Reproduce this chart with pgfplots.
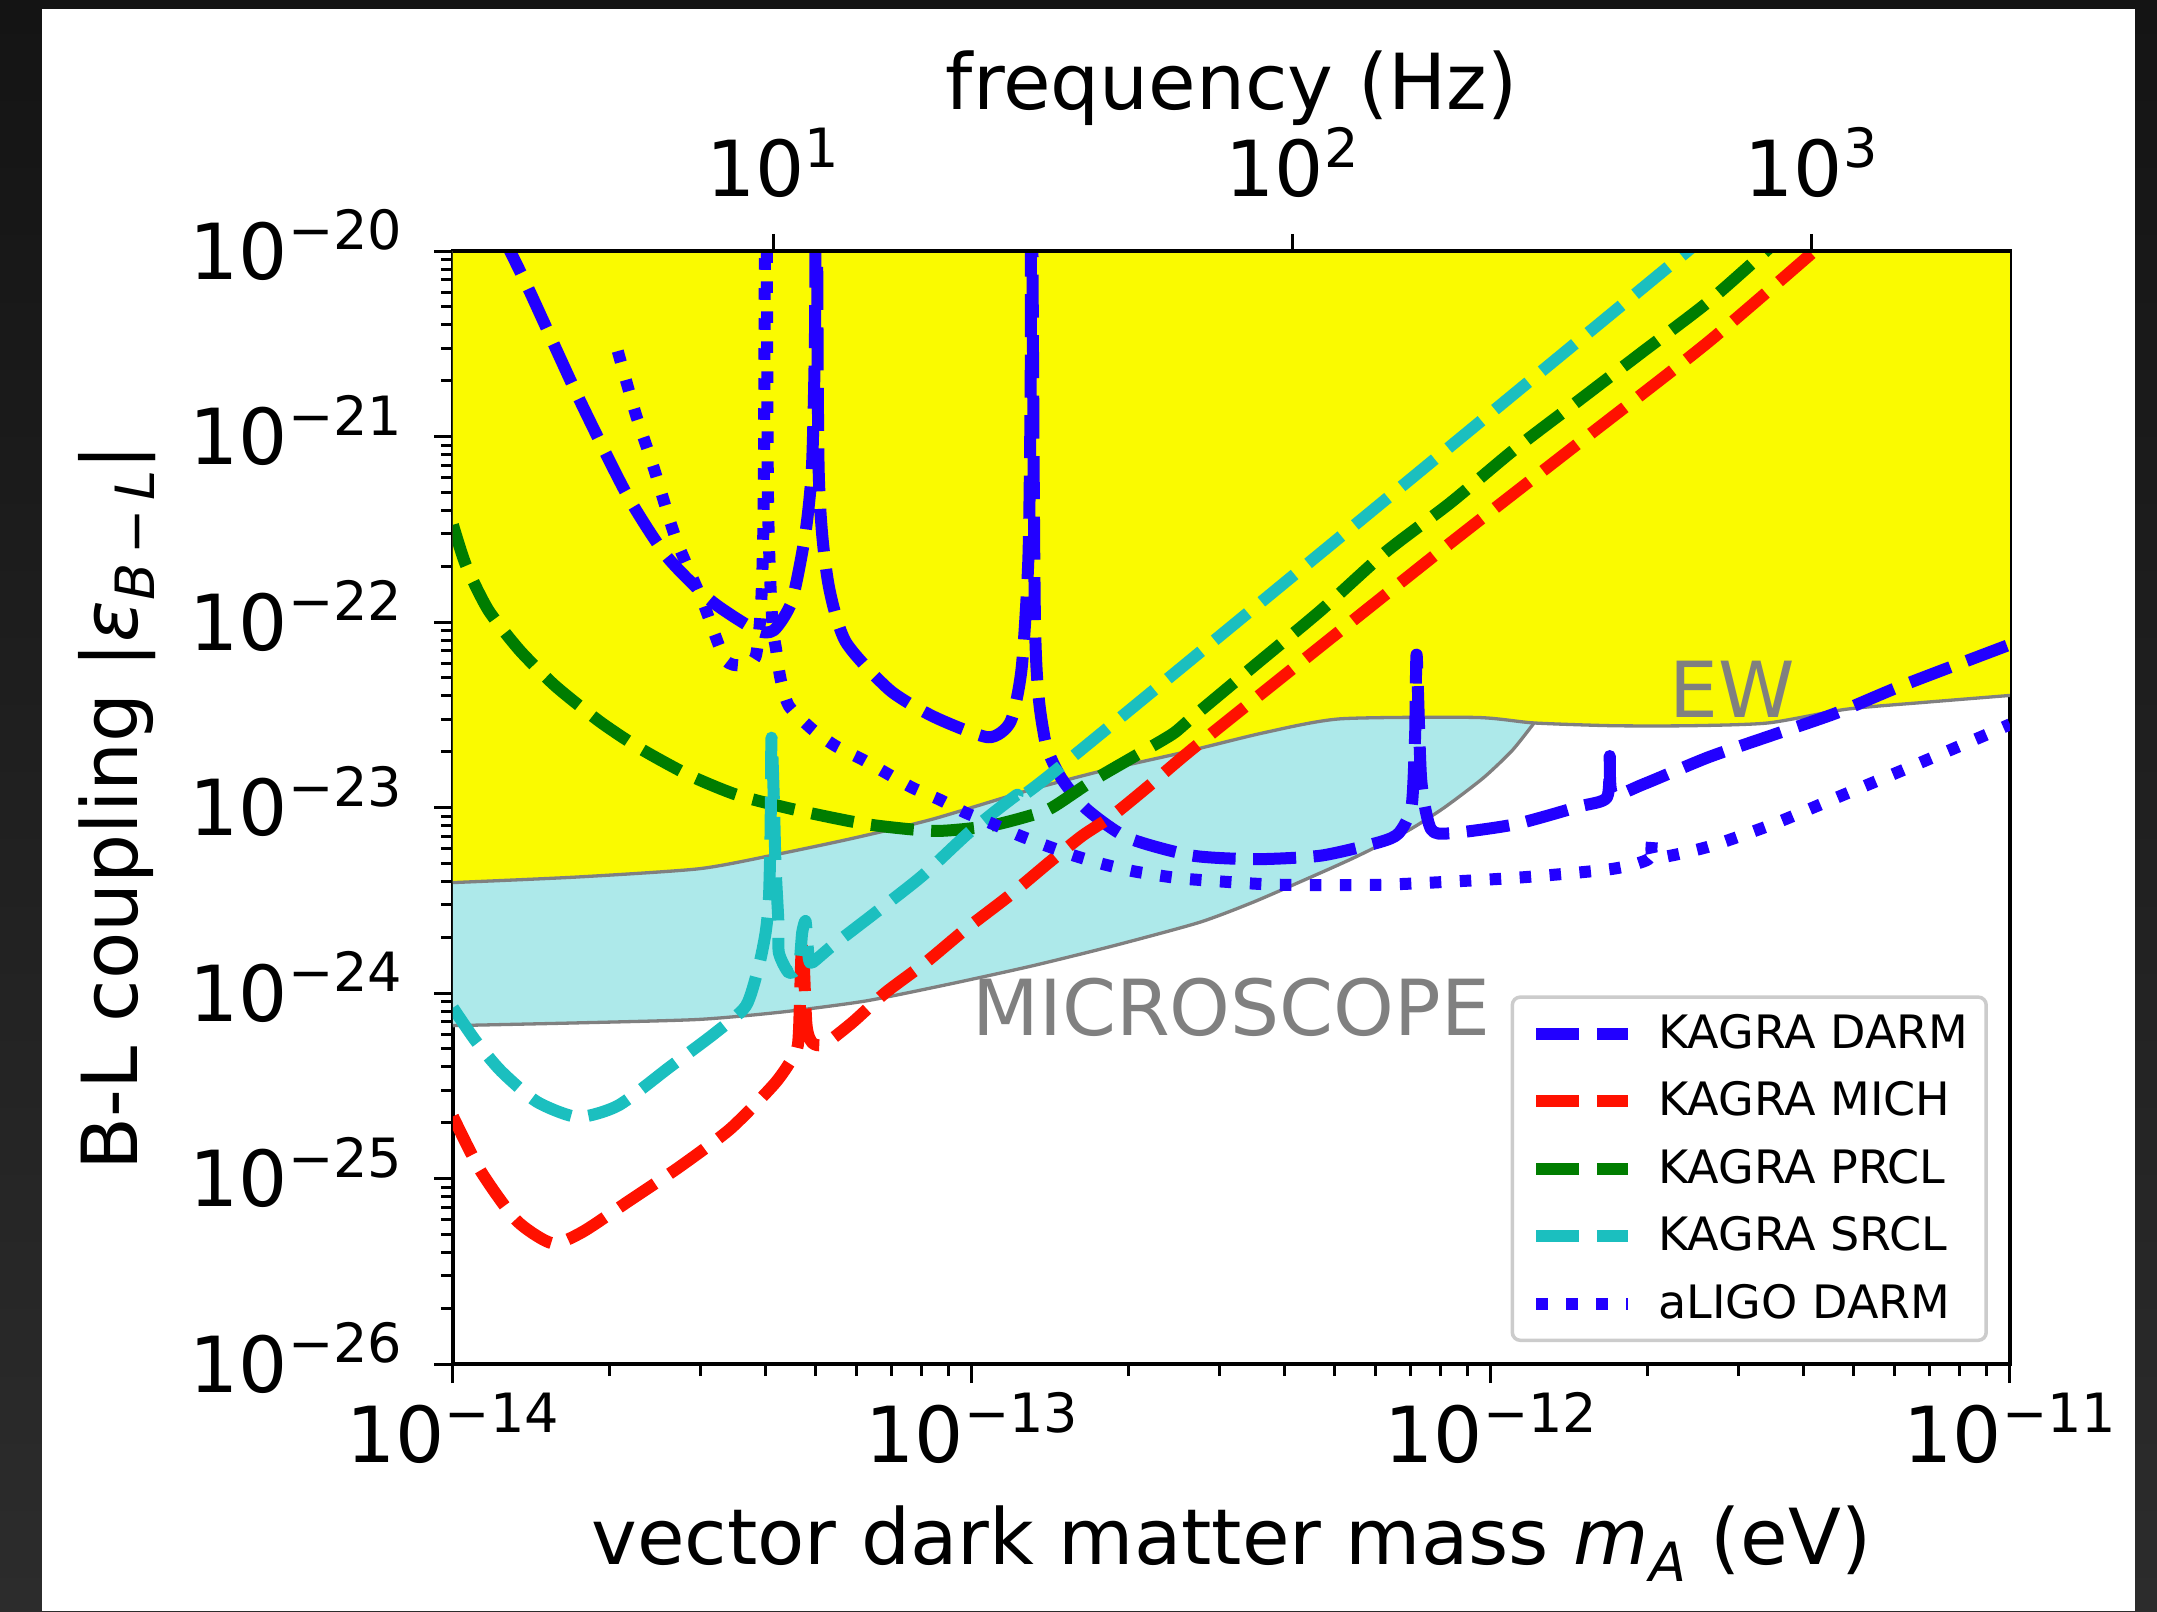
\documentclass[border=0pt]{standalone}
\usepackage{fontspec}
\setmainfont{DejaVu Sans}
\usepackage{pgfplots}
\pgfplotsset{compat=1.18}

\definecolor{cdarm}{RGB}{34,0,255}
\definecolor{cmich}{RGB}{255,17,0}
\definecolor{cprcl}{RGB}{0,125,0}
\definecolor{csrcl}{RGB}{27,191,191}
\definecolor{ewyellow}{RGB}{250,250,0}
\definecolor{microcyan}{RGB}{173,233,234}
\definecolor{bordergray}{RGB}{128,128,128}
\definecolor{legendedge}{RGB}{204,204,204}
\definecolor{bgtop}{RGB}{20,20,20}
\definecolor{bgbot}{RGB}{44,44,44}

\newcommand{\tl}[1]{10\raisebox{0.385em}{\fontsize{15.4pt}{16pt}\selectfont #1}}
\newcommand{\bigfont}{\fontsize{22pt}{26pt}\selectfont}

\pgfplotsset{
  kdash/.style={line width=1.2mm, dash pattern=on 4.3mm off 1.75mm, line cap=butt, line join=round, smooth, tension=0.4},
  kdot/.style={line width=1.2mm, dash pattern=on 1.15mm off 1.85mm, line cap=butt, line join=round, smooth, tension=0.4},
}

\begin{document}
\begin{tikzpicture}
\shade[top color=bgtop, bottom color=bgbot] (0mm,0mm) rectangle (215.7mm,161.1mm);
\fill[white] (4.2mm,0mm) rectangle (213.5mm,160.2mm);
\useasboundingbox (0mm,0mm) rectangle (215.7mm,161.1mm);

\begin{axis}[
  at={(45.3mm,24.7mm)}, anchor=south west,
  scale only axis, width=155.7mm, height=111.3mm,
  xmode=log, ymode=log,
  xmin=1e-14, xmax=1e-11, ymin=1e-26, ymax=1e-20,
  no markers,
  axis line style={line width=0.45mm},
  every tick/.style={black, line width=0.3mm},
  tick align=outside,
  major tick length=1.9mm, minor tick length=1.2mm,
  xtick pos=left, ytick pos=left,
  xtick={1e-14,1e-13,1e-12,1e-11},
  xticklabels={\tl{−14},\tl{−13},\tl{−12},\tl{−11}},
  minor xtick={2e-14,3e-14,4e-14,5e-14,6e-14,7e-14,8e-14,9e-14,2e-13,3e-13,4e-13,5e-13,6e-13,7e-13,8e-13,9e-13,2e-12,3e-12,4e-12,5e-12,6e-12,7e-12,8e-12,9e-12},
  ytick={1e-26,1e-25,1e-24,1e-23,1e-22,1e-21,1e-20},
  yticklabels={\tl{−26},\tl{−25},\tl{−24},\tl{−23},\tl{−22},\tl{−21},\tl{−20}},
  minor ytick={2e-26,3e-26,4e-26,5e-26,6e-26,7e-26,8e-26,9e-26,2e-25,3e-25,4e-25,5e-25,6e-25,7e-25,8e-25,9e-25,2e-24,3e-24,4e-24,5e-24,6e-24,7e-24,8e-24,9e-24,2e-23,3e-23,4e-23,5e-23,6e-23,7e-23,8e-23,9e-23,2e-22,3e-22,4e-22,5e-22,6e-22,7e-22,8e-22,9e-22,2e-21,3e-21,4e-21,5e-21,6e-21,7e-21,8e-21,9e-21},
  ticklabel style={font=\bigfont, inner sep=0pt},
  xticklabel style={anchor=base, yshift=-7.9mm},
  yticklabel style={anchor=base east, yshift=-2.84mm, xshift=-3.1mm},
  xlabel={vector dark matter mass \textit{m}\raisebox{-0.22em}{\fontsize{15.4pt}{16pt}\selectfont\textit{A}} (eV)},
  ylabel={B-L coupling |\textit{ε}\raisebox{-0.22em}{\fontsize{15.4pt}{16pt}\selectfont\textit{B}\,−\,\textit{L}}|},
  label style={font=\bigfont, inner sep=0pt},
  xlabel style={at={(axis description cs:0.5,-0.1797)}, anchor=base},
  ylabel style={at={(axis description cs:-0.2023,0.5)}, anchor=base},
  legend style={
    at={(1,0)}, anchor=south east, xshift=-2.2mm, yshift=2.2mm,
    draw=legendedge, line width=0.35mm, rounded corners=0.8mm, fill=white,
    font=\fontsize{13.1pt}{15pt}\selectfont,
    inner xsep=1.8mm, inner ysep=1.7mm,
    nodes={inner sep=0pt},
    row sep=2.8mm, column sep=2.4mm,
  },
  legend cell align=left,
  legend image code/.code={\draw[#1] (0mm,0mm) -- (9.2mm,0mm);},
]

% MICROSCOPE excluded region
\addplot[fill=microcyan, draw=none, forget plot, smooth, tension=0.4] coordinates {
(1e-14,6.675e-25) (1.732e-14,6.905e-25) (2.977e-14,7.209e-25) (4.326e-14,7.916e-25)
(6.236e-14,9.060e-25) (8.998e-14,1.114e-24) (1.306e-13,1.401e-24) (1.872e-13,1.797e-24)
(2.735e-13,2.398e-24) (3.445e-13,3.052e-24) (4.318e-13,4.010e-24) (5.445e-13,5.361e-24)
(6.866e-13,7.415e-24) (8.096e-13,9.913e-24) (9.663e-13,1.443e-23) (1.099e-12,2.031e-23)
(1.211e-12,2.858e-23)} |- (axis cs:1e-14,1e-20) -- cycle;

% EW excluded region
\addplot[fill=ewyellow, draw=none, forget plot, smooth, tension=0.4] coordinates {
(1e-14,3.941e-24) (1.732e-14,4.221e-24) (2.977e-14,4.677e-24) (4.146e-14,5.546e-24)
(5.870e-14,6.809e-24) (8.384e-14,8.648e-24) (1.306e-13,1.255e-23) (1.816e-13,1.599e-23)
(2.541e-13,1.977e-23) (3.662e-13,2.536e-23) (5.123e-13,3.008e-23) (9.374e-13,3.060e-23)
(1.211e-12,2.858e-23) (1.715e-12,2.762e-23) (2.429e-12,2.762e-23) (3.419e-12,2.858e-23)
(4.840e-12,3.390e-23) (6.853e-12,3.692e-23) (1e-11,4.022e-23)} |- (axis cs:1e-14,1e-20) -- cycle;

% boundaries
\addplot[bordergray, line width=0.33mm, forget plot, smooth, tension=0.4] coordinates {
(1e-14,6.675e-25) (1.732e-14,6.905e-25) (2.977e-14,7.209e-25) (4.326e-14,7.916e-25)
(6.236e-14,9.060e-25) (8.998e-14,1.114e-24) (1.306e-13,1.401e-24) (1.872e-13,1.797e-24)
(2.735e-13,2.398e-24) (3.445e-13,3.052e-24) (4.318e-13,4.010e-24) (5.445e-13,5.361e-24)
(6.866e-13,7.415e-24) (8.096e-13,9.913e-24) (9.663e-13,1.443e-23) (1.099e-12,2.031e-23)
(1.211e-12,2.858e-23)};
\addplot[bordergray, line width=0.33mm, forget plot, smooth, tension=0.4] coordinates {
(1e-14,3.941e-24) (1.732e-14,4.221e-24) (2.977e-14,4.677e-24) (4.146e-14,5.546e-24)
(5.870e-14,6.809e-24) (8.384e-14,8.648e-24) (1.306e-13,1.255e-23) (1.816e-13,1.599e-23)
(2.541e-13,1.977e-23) (3.662e-13,2.536e-23) (5.123e-13,3.008e-23) (9.374e-13,3.060e-23)
(1.211e-12,2.858e-23) (1.715e-12,2.762e-23) (2.429e-12,2.762e-23) (3.419e-12,2.858e-23)
(4.840e-12,3.390e-23) (6.853e-12,3.692e-23) (1e-11,4.022e-23)};

\node[anchor=base west, inner sep=0pt, text=bordergray, font=\bigfont] at (axis cs:1e-13,5.94e-25) {MICROSCOPE};
\node[anchor=base west, inner sep=0pt, text=bordergray, font=\bigfont] at (axis cs:2.2e-12,3.04e-23) {EW};

% KAGRA DARM
\addplot[cdarm, kdash] coordinates {
(1.242e-14,1.227e-20) (1.398e-14,6.273e-21) (1.739e-14,1.659e-21) (2.161e-14,4.898e-22)
(2.583e-14,2.257e-22) (3.150e-14,1.296e-22) (3.839e-14,9.05e-23) (4.156e-14,9.05e-23)
(4.499e-14,1.296e-22) (4.774e-14,2.976e-22) (4.918e-14,6.848e-22) (4.985e-14,3.607e-21)
(5.015e-14,1e-19) (5.065e-14,6.848e-22) (5.269e-14,1.717e-22) (5.704e-14,7.882e-23)
(6.955e-14,4.282e-23) (8.477e-14,3.071e-23) (1.075e-13,2.393e-23) (1.187e-13,2.907e-23)
(1.247e-13,5.657e-23) (1.285e-13,2.257e-22) (1.298e-13,2.078e-21) (1.302e-13,1e-19)
(1.323e-13,9.824e-23) (1.377e-13,2.459e-23) (1.475e-13,1.494e-23) (1.656e-13,9.913e-24)
(1.996e-13,6.878e-24) (2.658e-13,5.510e-24) (3.539e-13,5.270e-24) (4.712e-13,5.510e-24)
(6.092e-13,6.501e-24) (6.640e-13,7.264e-24) (7.032e-13,1.013e-23) (7.145e-13,2.459e-23)
(7.193e-13,6.667e-23) (7.339e-13,1.419e-23) (7.660e-13,7.674e-24) (8.347e-13,7.264e-24)
(1.111e-12,8.118e-24) (1.479e-12,1.013e-23) (1.674e-12,1.136e-23) (1.694e-12,1.897e-23)
(1.715e-12,1.176e-23) (1.969e-12,1.337e-23) (2.621e-12,1.865e-23) (3.488e-12,2.459e-23)
(4.643e-12,3.243e-23) (6.181e-12,4.532e-23) (1e-11,7.565e-23)};
\addlegendentry{KAGRA DARM}

% KAGRA MICH
\addplot[cmich, kdash] coordinates {
(1.000e-14,2.162e-25) (1.130e-14,1.103e-25) (1.325e-14,5.955e-26) (1.553e-14,4.478e-26)
(1.778e-14,5.159e-26) (2.180e-14,7.551e-26) (2.734e-14,1.157e-25) (3.429e-14,1.860e-25)
(4.184e-14,3.291e-25) (4.571e-14,4.775e-25) (4.641e-14,6.128e-25) (4.712e-14,1.991e-24)
(4.799e-14,6.787e-25) (4.924e-14,5.401e-25) (5.186e-14,5.291e-25) (5.880e-14,6.928e-25)
(6.817e-14,1.006e-24) (8.140e-14,1.459e-24) (9.716e-14,2.205e-24) (1.178e-13,3.334e-24)
(1.407e-13,5.049e-24) (1.630e-13,7.032e-24) (1.862e-13,9.008e-24) (2.192e-13,1.307e-23)
(2.656e-13,2.062e-23) (4.712e-13,7.449e-23) (8.347e-13,2.663e-22) (1.479e-12,9.264e-22)
(2.621e-12,3.228e-21) (4.471e-12,1.166e-20)};
\addlegendentry{KAGRA MICH}

% KAGRA PRCL
\addplot[cprcl, kdash] coordinates {
(1.000e-14,3.343e-22) (1.060e-14,2.020e-22) (1.170e-14,1.161e-22) (1.344e-14,7.052e-23)
(1.575e-14,4.525e-23) (1.919e-14,2.907e-23) (2.294e-14,2.083e-23) (2.852e-14,1.494e-23)
(3.546e-14,1.164e-23) (4.680e-14,9.581e-24) (6.297e-14,8.118e-24) (8.477e-14,7.478e-24)
(1.078e-13,7.953e-24) (1.288e-13,9.008e-24) (1.427e-13,1.000e-23) (1.704e-13,1.390e-23)
(2.036e-13,1.858e-23) (2.432e-13,2.485e-23) (2.656e-13,3.055e-23) (3.539e-13,5.965e-23)
(4.712e-13,1.161e-22) (6.269e-13,2.384e-22) (8.347e-13,4.385e-22) (1.111e-12,8.535e-22)
(1.479e-12,1.570e-21) (1.969e-12,2.889e-21) (2.621e-12,5.315e-21) (3.503e-12,1.089e-20)};
\addlegendentry{KAGRA PRCL}

% KAGRA SRCL
\addplot[csrcl, kdash] coordinates {
(1.000e-14,8.333e-25) (1.105e-14,5.550e-25) (1.238e-14,3.798e-25) (1.451e-14,2.595e-25)
(1.739e-14,2.147e-25) (2.084e-14,2.478e-25) (2.614e-14,3.985e-25) (3.204e-14,6.107e-25)
(3.669e-14,8.519e-25) (3.886e-14,1.401e-24) (4.004e-14,2.117e-24) (4.063e-14,3.200e-24)
(4.093e-14,7.326e-24) (4.110e-14,2.381e-23) (4.153e-14,1.108e-23) (4.184e-14,4.838e-24)
(4.235e-14,2.498e-24) (4.247e-14,1.650e-24) (4.439e-14,1.288e-24) (4.641e-14,1.401e-24)
(4.709e-14,2.117e-24) (4.779e-14,2.447e-24) (4.814e-14,1.947e-24) (4.852e-14,1.520e-24)
(4.924e-14,1.459e-24) (5.379e-14,1.794e-24) (6.519e-14,2.713e-24) (8.019e-14,4.279e-24)
(9.867e-14,7.326e-24) (1.213e-13,1.156e-23) (1.514e-13,1.748e-23) (2.519e-12,1.127e-20)};
\addlegendentry{KAGRA SRCL}

% aLIGO DARM
\addplot[cdarm, kdot] coordinates {
(2.078e-14,2.889e-21) (2.249e-14,1.328e-21) (2.435e-14,6.848e-22) (2.688e-14,2.818e-22)
(3.027e-14,1.296e-22) (3.342e-14,6.313e-23) (3.603e-14,5.854e-23) (3.830e-14,6.488e-23)
(3.925e-14,1.241e-22) (3.972e-14,4.867e-22) (4.009e-14,1e-19) (4.046e-14,4.867e-22)
(4.121e-14,1.046e-22) (4.197e-14,7.041e-23) (4.280e-14,4.919e-23) (4.439e-14,3.532e-23)
(4.924e-14,2.642e-23) (5.459e-14,2.149e-23) (6.145e-14,1.820e-23) (6.817e-14,1.543e-23)
(7.674e-14,1.280e-23) (8.638e-14,1.108e-23) (9.716e-14,9.386e-24) (1.102e-13,8.118e-24)
(1.240e-13,7.032e-24) (1.396e-13,6.209e-24) (1.583e-13,5.481e-24) (1.795e-13,4.946e-24)
(2.036e-13,4.550e-24) (2.326e-13,4.279e-24) (2.637e-13,4.107e-24) (3.846e-13,3.842e-24)
(6.266e-13,3.842e-24) (1.112e-12,4.178e-24) (1.705e-12,4.660e-24) (2.011e-12,5.270e-24)
(2.041e-12,6.579e-24) (2.073e-12,5.361e-24) (2.621e-12,6.145e-24) (3.488e-12,8.118e-24)
(4.643e-12,1.133e-23) (6.181e-12,1.580e-23) (8.968e-12,2.459e-23) (1e-11,2.810e-23)};
\addlegendentry{aLIGO DARM}
\end{axis}

% frequency axis on top
\begin{axis}[
  at={(45.3mm,24.7mm)}, anchor=south west,
  scale only axis, width=155.7mm, height=111.3mm,
  xmode=log, xmin=2.41799, xmax=2417.99, ymin=0, ymax=1,
  axis x line*=top, hide y axis,
  axis line style={line width=0.45mm},
  every tick/.style={black, line width=0.3mm},
  tick align=outside, major tick length=1.7mm,
  xminorticks=false,
  xtick={10,100,1000}, xticklabels={\tl{1},\tl{2},\tl{3}},
  xticklabel style={font=\bigfont, inner sep=0pt, anchor=base, yshift=3.7mm},
  xlabel={frequency (Hz)},
  xlabel style={font=\bigfont, inner sep=0pt, at={(axis description cs:0.5,1.1267)}, anchor=base},
]
\end{axis}
\end{tikzpicture}
\end{document}
